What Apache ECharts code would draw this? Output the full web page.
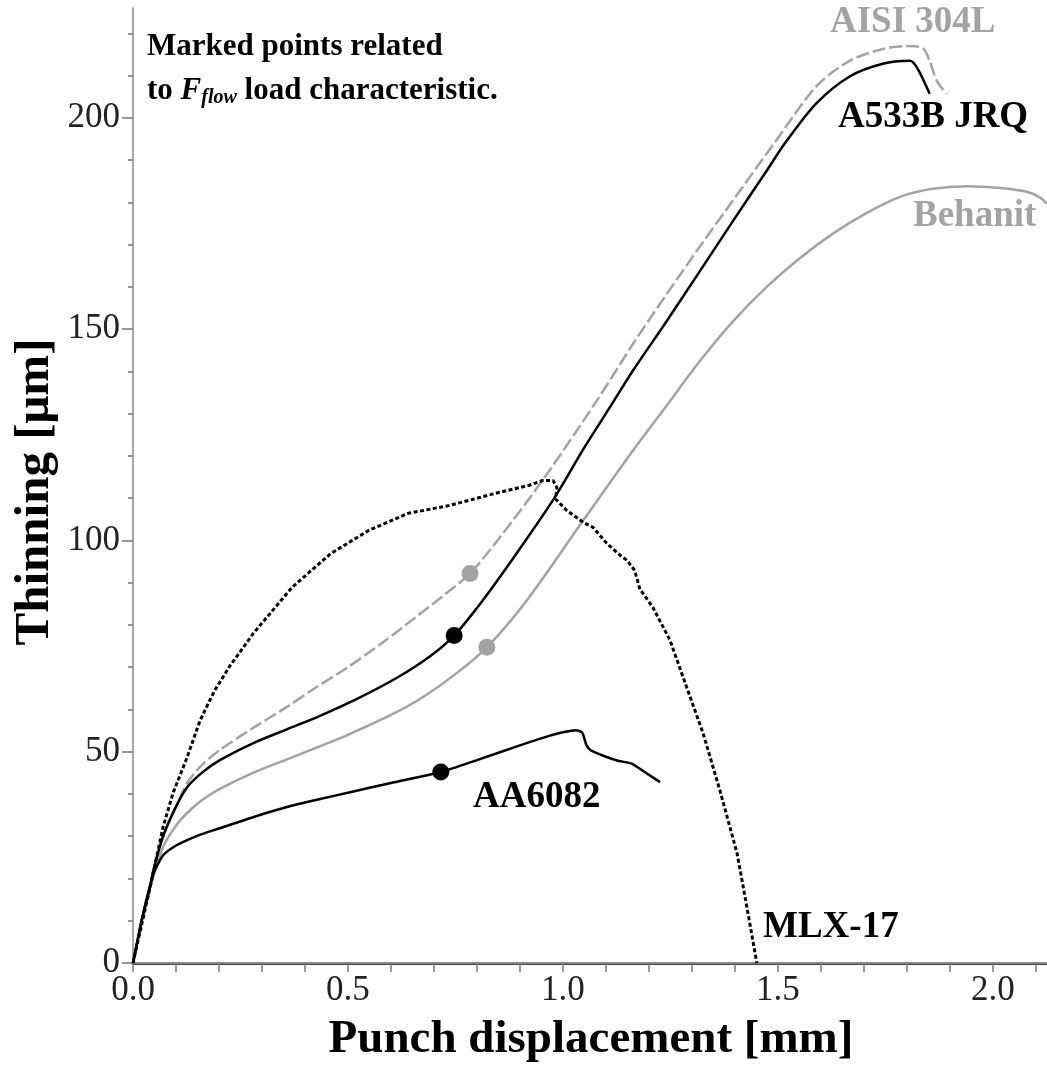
<!DOCTYPE html>
<html><head><meta charset="utf-8">
<script src="https://cdn.jsdelivr.net/npm/echarts@6/dist/echarts.min.js"></script>
<style>html,body{margin:0;padding:0;background:#fff}#c{width:1047px;height:1068px}</style>
</head><body><div id="c"></div>
<script>
// ---- tick values / labels ----
const xMajorTicks = [0, 0.5, 1.0, 1.5, 2.0];
const xMinorTicks = [0.1, 0.2, 0.3, 0.4, 0.6, 0.7, 0.8, 0.9, 1.1, 1.2, 1.3, 1.4, 1.6, 1.7, 1.8, 1.9, 2.1];
const yMajorTicks = [0, 50, 100, 150, 200];
const yMinorTicks = [10, 20, 30, 40, 60, 70, 80, 90, 110, 120, 130, 140, 160, 170, 180, 190, 210, 220];

// ---- series data (punch displacement [mm], thinning [µm]) ----
const a533bX = [0, 0.01, 0.02, 0.03, 0.04, 0.05, 0.07, 0.1, 0.126, 0.16, 0.202, 0.279, 0.358, 0.435, 0.521, 0.614, 0.691, 0.747, 0.8, 0.853, 0.92, 0.981, 1.05, 1.116, 1.163, 1.242, 1.319, 1.395, 1.474, 1.52, 1.59, 1.667, 1.744, 1.807, 1.823, 1.853];
const a533bY = [0, 5, 10, 14.5, 18.5, 23, 30, 37, 41.6, 45, 48, 52, 55.3, 58.5, 62.5, 67.5, 72.6, 77.5, 84, 91.3, 101, 110.2, 122, 132.6, 140.2, 152, 163.8, 175.5, 187.5, 194.5, 203.5, 209.8, 212.8, 213.5, 212, 205.7];

const aisiX = [0, 0.01, 0.02, 0.03, 0.04, 0.05, 0.07, 0.1, 0.126, 0.16, 0.202, 0.279, 0.358, 0.43, 0.5, 0.58, 0.66, 0.72, 0.784, 0.853, 0.958, 1.079, 1.163, 1.242, 1.319, 1.395, 1.488, 1.59, 1.667, 1.744, 1.8, 1.837, 1.853, 1.87, 1.893];
const aisiY = [0, 5, 10, 14.5, 18.5, 23, 30, 37, 42.6, 46.8, 50.4, 55.6, 60.6, 65.5, 70, 75.8, 82, 86.8, 92.2, 100.7, 115, 133.1, 146.5, 158.4, 169.6, 180.4, 193.5, 207.5, 213.5, 216.3, 217, 216.5, 213.5, 208.7, 205.7];

const behanitX = [0, 0.01, 0.02, 0.03, 0.04, 0.07, 0.1, 0.126, 0.16, 0.202, 0.279, 0.358, 0.435, 0.5, 0.6, 0.674, 0.753, 0.823, 0.916, 1.047, 1.163, 1.242, 1.319, 1.395, 1.474, 1.551, 1.628, 1.707, 1.784, 1.86, 1.94, 2.016, 2.079, 2.109, 2.126];
const behanitY = [0, 5, 10, 14, 18, 27.5, 32.5, 35.5, 38.5, 41.2, 45, 48.2, 51.3, 54, 58.7, 62.9, 68.6, 74.7, 85.8, 104.7, 121.3, 132, 142.5, 151.8, 160, 166.8, 172.6, 177.5, 181.3, 183.2, 183.8, 183.4, 182.5, 181.2, 179.7];

const aa6082X = [0, 0.01, 0.02, 0.03, 0.04, 0.047, 0.07, 0.1, 0.126, 0.16, 0.202, 0.279, 0.358, 0.435, 0.5, 0.6, 0.716, 0.8, 0.9, 0.97, 1.0, 1.03, 1.045, 1.055, 1.065, 1.1, 1.13, 1.16, 1.19, 1.226];
const aa6082Y = [0, 5, 10, 14, 18, 21, 25.5, 27.8, 29.1, 30.5, 31.9, 34.5, 36.9, 38.8, 40.3, 42.6, 45.2, 48, 51.5, 53.8, 54.6, 55.1, 54.5, 51.5, 50.3, 48.8, 47.8, 47.2, 45.2, 42.8];

const mlxX = [0, 0.01, 0.02, 0.04, 0.07, 0.093, 0.126, 0.156, 0.19, 0.226, 0.28, 0.37, 0.46, 0.549, 0.64, 0.737, 0.853, 0.92, 0.953, 0.977, 0.986, 0.983, 1.009, 1.047, 1.07, 1.102, 1.133, 1.149, 1.167, 1.179, 1.209, 1.249, 1.288, 1.326, 1.365, 1.405, 1.428, 1.451];
const mlxY = [0, 4.5, 9, 18, 32.2, 40.2, 48.7, 57.4, 64.5, 70.4, 78, 88.9, 96.9, 102.4, 106.4, 108.3, 111.4, 113, 114.2, 114.2, 112.5, 109.8, 107.1, 104.3, 103.1, 99.3, 96.5, 95.3, 92.9, 88.5, 84.2, 76.4, 65.2, 54.4, 40.9, 26.0, 13.2, 0];

// marked points related to F_flow
const markBlackX = [0.747, 0.716];
const markBlackY = [77.5, 45.2];
const markGrayX = [0.784, 0.823];
const markGrayY = [92.2, 74.7];

const zip = (xs, ys) => xs.map((x, i) => [x, ys[i]]);
const FONT = '"Liberation Serif", "Times New Roman", serif';
const GRAY = '#a3a3a3';

const chart = echarts.init(document.getElementById('c'), null, {renderer: 'canvas'});
const lineSeries = (name, xs, ys, color, type, width, smooth, z) => ({
  name, type: 'line', data: zip(xs, ys), symbol: 'none', smooth: smooth,
  lineStyle: {color, width, type}, z, animation: false
});

chart.setOption({
  animation: false,
  backgroundColor: '#fff',
  grid: {left: 133, right: 0, top: 8, bottom: 105, containLabel: false},
  xAxis: [{
    type: 'value', min: 0, max: 2.126, interval: 0.5,
    axisLine: {show: true, lineStyle: {color: '#444', width: 3}},
    axisTick: {show: true, length: 9, customValues: xMajorTicks.concat(xMinorTicks), lineStyle: {color: '#777', width: 1.5}},
    axisLabel: {customValues: xMajorTicks, formatter: v => v.toFixed(1), fontFamily: FONT, fontSize: 35, color: '#222', margin: 10},
    splitLine: {show: false}
  }, {
    type: 'value', position: 'top', min: 0, max: 2.126,
    axisLine: {show: true, lineStyle: {color: '#888', width: 2}},
    axisTick: {show: false}, axisLabel: {show: false}, splitLine: {show: false}
  }],
  yAxis: [{
    type: 'value', min: 0, max: 226, interval: 50,
    axisLine: {show: true, lineStyle: {color: '#888', width: 1.5}},
    axisTick: {show: true, length: 11, customValues: yMajorTicks, lineStyle: {color: '#777', width: 1.5}},
    axisLabel: {customValues: yMajorTicks, fontFamily: FONT, fontSize: 35, color: '#222', margin: 13},
    splitLine: {show: false}
  }, {
    type: 'value', position: 'left', min: 0, max: 226, interval: 50,
    axisLine: {show: false},
    axisTick: {show: true, length: 5, customValues: yMinorTicks, lineStyle: {color: '#777', width: 1.5}},
    axisLabel: {show: false}, splitLine: {show: false}
  }],
  series: [
    lineSeries('Behanit', behanitX, behanitY, GRAY, 'solid', 2.5, 0.3, 2),
    lineSeries('AISI 304L', aisiX, aisiY, GRAY, [13, 4], 2.5, 0.3, 2),
    lineSeries('MLX-17', mlxX, mlxY, '#000', [4, 2.5], 3, false, 3),
    lineSeries('AA6082', aa6082X, aa6082Y, '#000', 'solid', 2.5, 0.2, 3),
    lineSeries('A533B JRQ', a533bX, a533bY, '#000', 'solid', 2.5, 0.3, 3),
    {type: 'scatter', data: zip(markGrayX, markGrayY), symbolSize: 17, itemStyle: {color: GRAY, opacity: 1}, z: 5, animation: false},
    {type: 'scatter', data: zip(markBlackX, markBlackY), symbolSize: 17, itemStyle: {color: '#000', opacity: 1}, z: 5, animation: false}
  ],
  graphic: [
    {type: 'text', x: 147, y: 47, style: {text: 'Marked points related', font: 'bold 31px ' + FONT, fill: '#000', textAlign: 'left', textVerticalAlign: 'middle'}},
    {type: 'text', x: 147, y: 91, style: {
      text: 'to {it|F}{sub|flow} load characteristic.', font: 'bold 31px ' + FONT, fill: '#000', textAlign: 'left', textVerticalAlign: 'middle',
      rich: {
        it: {fontFamily: FONT, fontWeight: 'bold', fontStyle: 'italic', fontSize: 31, lineHeight: 34, verticalAlign: 'middle'},
        sub: {fontFamily: FONT, fontWeight: 'bold', fontStyle: 'italic', fontSize: 20, lineHeight: 34, verticalAlign: 'bottom'}
      }}},
    {type: 'text', x: 830, y: 22, style: {text: 'AISI 304L', font: 'bold 37px ' + FONT, fill: GRAY, textAlign: 'left', textVerticalAlign: 'middle'}},
    {type: 'text', x: 838, y: 117, style: {text: 'A533B JRQ', font: 'bold 37px ' + FONT, fill: '#000', textAlign: 'left', textVerticalAlign: 'middle'}},
    {type: 'text', x: 913, y: 216, style: {text: 'Behanit', font: 'bold 37px ' + FONT, fill: GRAY, textAlign: 'left', textVerticalAlign: 'middle'}},
    {type: 'text', x: 473, y: 797, style: {text: 'AA6082', font: 'bold 37px ' + FONT, fill: '#000', textAlign: 'left', textVerticalAlign: 'middle'}},
    {type: 'text', x: 763, y: 927, style: {text: 'MLX-17', font: 'bold 37px ' + FONT, fill: '#000', textAlign: 'left', textVerticalAlign: 'middle'}},
    {type: 'text', x: 591, y: 1040, style: {text: 'Punch displacement [mm]', font: 'bold 47px ' + FONT, fill: '#000', textAlign: 'center', textVerticalAlign: 'middle'}},
    {type: 'text', x: 35, y: 492, rotation: Math.PI / 2, style: {text: 'Thinning [μm]', font: 'bold 49px ' + FONT, fill: '#000', textAlign: 'center', textVerticalAlign: 'middle'}}
  ]
});
</script>
</body></html>
